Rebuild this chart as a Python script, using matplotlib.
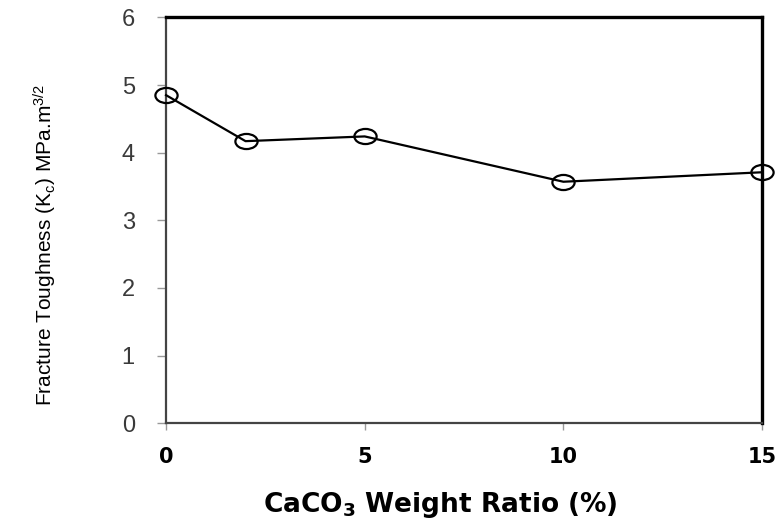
import matplotlib
matplotlib.use("Agg")
import matplotlib.pyplot as plt
from matplotlib.path import Path

caco3_ratio = [0, 2, 5, 10, 15]
toughness = [4.85, 4.17, 4.24, 3.57, 3.71]
x_ticks = [0, 5, 10, 15]
y_ticks = [0, 1, 2, 3, 4, 5, 6]

plt.rcParams["mathtext.fontset"] = "custom"
plt.rcParams["mathtext.rm"] = "Liberation Sans"
plt.rcParams["mathtext.bf"] = "DejaVu Sans:bold"
plt.rcParams["mathtext.it"] = "Liberation Sans"

# the source image is slightly stretched, so circles look like flat ellipses
circle = Path.unit_circle()
ellipse = Path(circle.vertices * [1.0, 0.68], circle.codes)

fig = plt.figure(figsize=(7.76, 5.27), dpi=100)
ax = fig.add_axes([0.214, 0.197, 0.768, 0.770])

ax.plot(caco3_ratio, toughness, color="black", lw=1.6, marker=ellipse, ms=16,
        mfc="none", mec="black", mew=1.6, clip_on=False, zorder=3)

ax.set_xlim(0, 15)
ax.set_ylim(0, 6)
ax.set_xticks(x_ticks)
ax.set_yticks(y_ticks)
ax.set_xticklabels([str(t) for t in x_ticks], fontsize=15, fontweight="bold",
                   family="DejaVu Sans")
ax.set_yticklabels([str(t) for t in y_ticks], fontsize=17, color="#3a3a3a",
                   family="Liberation Sans")
ax.tick_params(axis="both", direction="out", width=1, color="#999999")
ax.tick_params(axis="x", length=5, pad=12)
ax.tick_params(axis="y", length=6.5, pad=16)

for side in ["left", "bottom"]:
    ax.spines[side].set_linewidth(1.6)
    ax.spines[side].set_color("#444444")
for side in ["top", "right"]:
    ax.spines[side].set_linewidth(2.4)
    ax.spines[side].set_color("black")

ax.set_xlabel(r"CaCO$_\mathbf{3}$ Weight Ratio (%)", fontsize=19, fontweight="bold",
              family="DejaVu Sans")
ax.set_ylabel(r"Fracture Toughness (K$_c$) MPa.m$^{3/2}$", fontsize=15,
              family="Liberation Sans")
ax.xaxis.set_label_coords(0.461, -0.202)
ax.yaxis.set_label_coords(-0.203, 0.44)
ax.xaxis.label.set_va("center")
ax.yaxis.label.set_va("center")

fig.savefig("out.png", dpi=100)
